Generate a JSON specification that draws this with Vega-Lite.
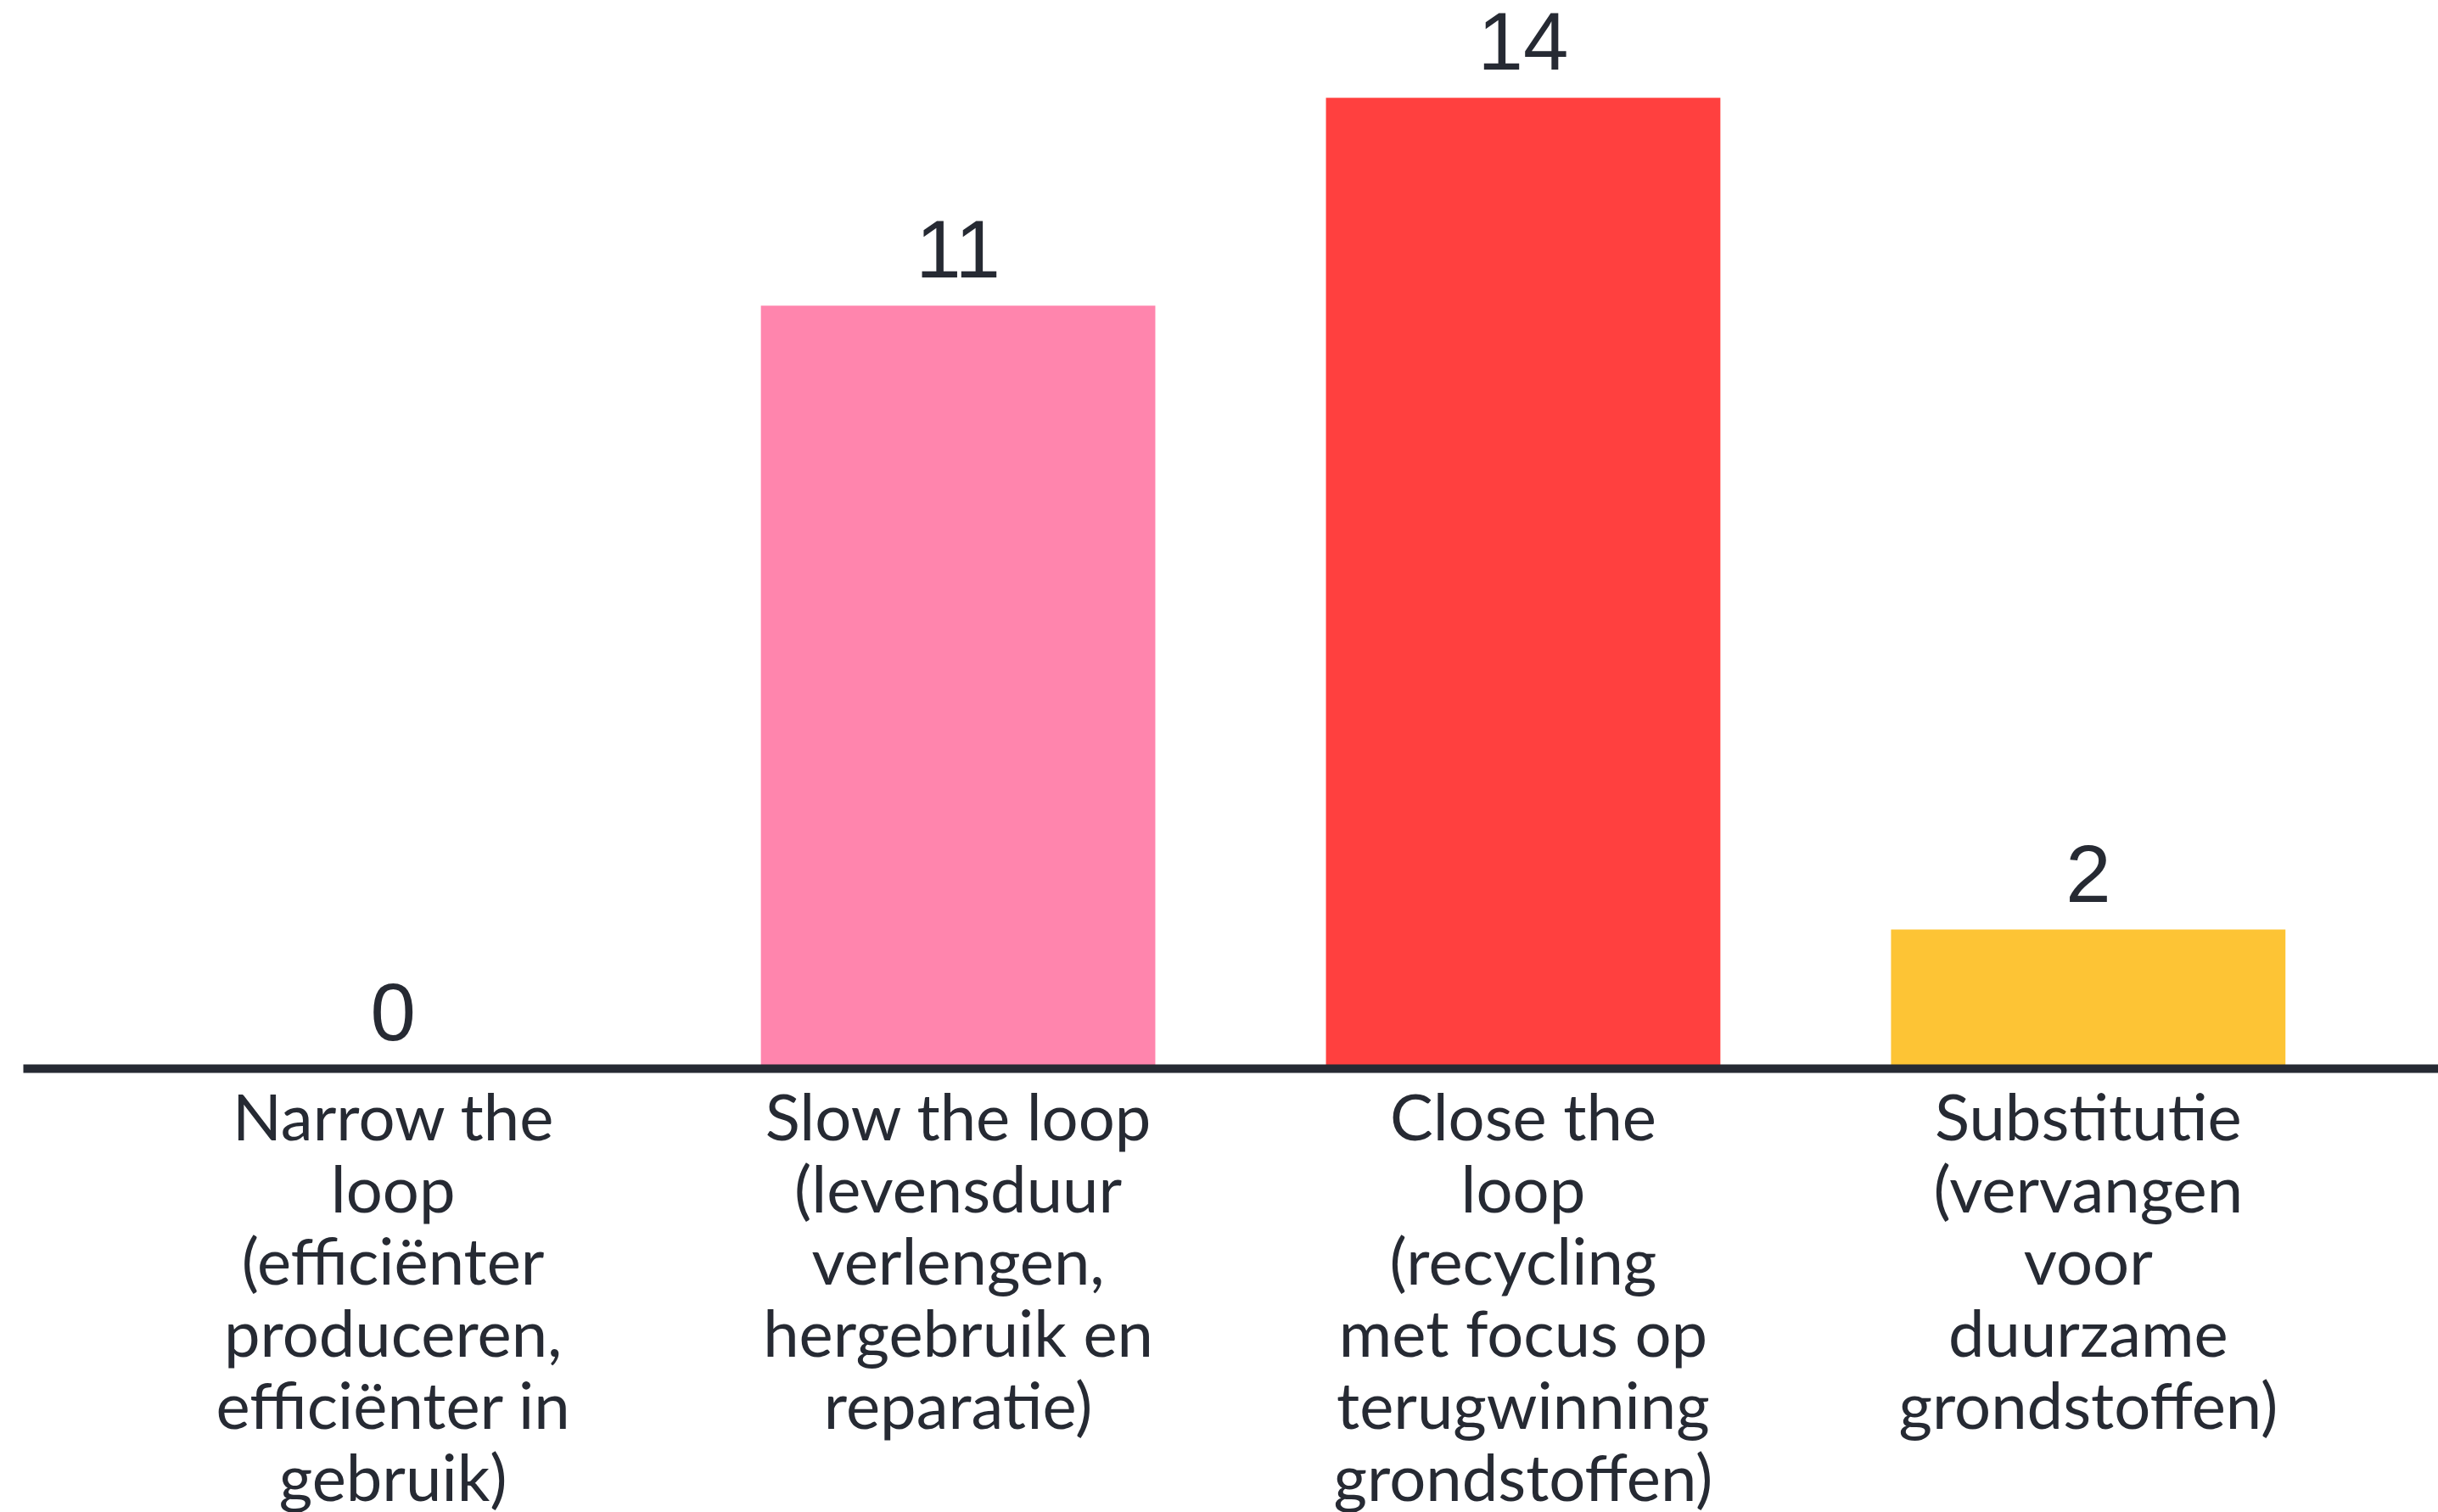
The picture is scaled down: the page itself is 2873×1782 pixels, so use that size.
{
  "$schema": "https://vega.github.io/schema/vega-lite/v6.json",
  "width": 2846,
  "height": 1259,
  "autosize": {"type": "none"},
  "padding": {"left": 27, "top": 0, "right": 0, "bottom": 523},
  "background": "white",
  "config": {"view": {"stroke": null}},
  "data": {
    "values": [
      {"cat": "Narrow the|loop|(efficiënter|produceren,|efficiënter in|gebruik)", "value": 0, "color": "#FF85AD"},
      {"cat": "Slow the loop|(levensduur|verlengen,|hergebruik en|reparatie)", "value": 11, "color": "#FF85AD"},
      {"cat": "Close the|loop|(recycling|met focus op|terugwinning|grondstoffen)", "value": 14, "color": "#FF403F"},
      {"cat": "Substitutie|(vervangen|voor|duurzame|grondstoffen)", "value": 2, "color": "#FDC435"}
    ]
  },
  "encoding": {
    "x": {
      "field": "cat",
      "type": "nominal",
      "sort": null,
      "scale": {"paddingInner": 0.302, "paddingOuter": 0.306, "range": [0, 2870]},
      "axis": {
        "title": null,
        "labelAngle": 0,
        "labelExpr": "split(datum.label, '|')",
        "labelFont": "Lato",
        "labelFontSize": 76,
        "labelLineHeight": 85,
        "labelColor": "#262A33",
        "labelPadding": 24,
        "labelBaseline": "top",
        "labelLimit": 0,
        "ticks": false,
        "domainColor": "#262A33",
        "domainWidth": 10,
        "zindex": 1
      }
    },
    "y": {
      "field": "value",
      "type": "quantitative",
      "scale": {"domain": [0, 15.41], "nice": false},
      "axis": null
    }
  },
  "layer": [
    {
      "mark": {"type": "bar"},
      "encoding": {
        "color": {"field": "color", "type": "nominal", "scale": null, "legend": null}
      }
    },
    {
      "mark": {"type": "text", "baseline": "alphabetic", "dy": -33, "font": "Liberation Sans Narrow, Liberation Sans", "fontSize": 96, "color": "#262A33"},
      "encoding": {"text": {"field": "value", "type": "quantitative"}}
    }
  ]
}
